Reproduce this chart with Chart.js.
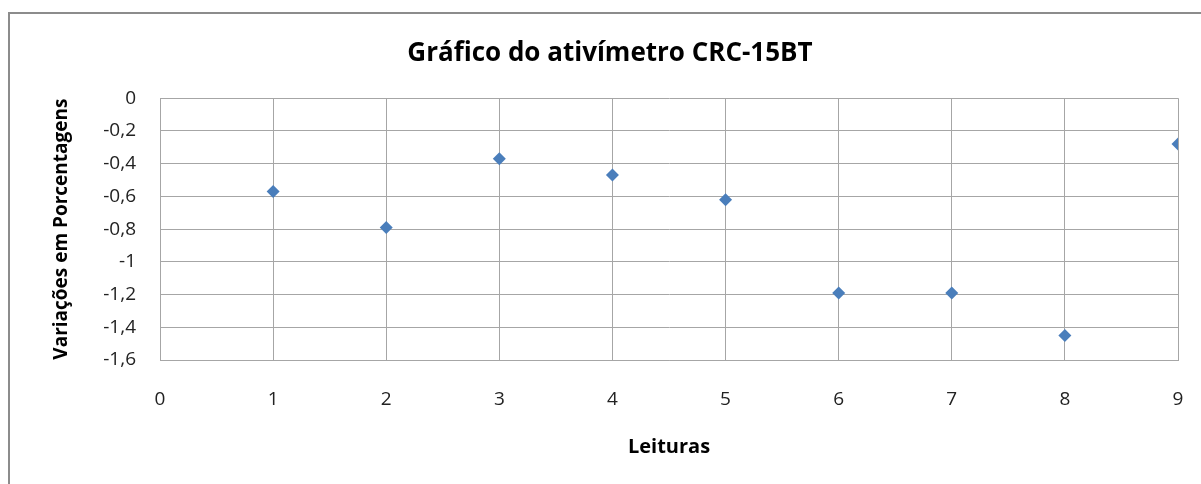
<!DOCTYPE html>
<html>
<head>
<meta charset="utf-8">
<script src="https://cdn.jsdelivr.net/npm/chart.js@4.4.1/dist/chart.umd.min.js"></script>
<style>
  html, body { margin: 0; padding: 0; background: #fff; overflow: hidden; }
  #wrap { position: relative; width: 1201px; height: 484px; }
  #moldura { position: absolute; left: 8px; top: 12px; width: 1300px; height: 600px;
             border: 2px solid #8c8c8c; box-sizing: border-box; }
  canvas { position: absolute; left: 0; top: 0; }
</style>
</head>
<body>
<div id="wrap">
  <div id="moldura"></div>
  <canvas id="grafico" width="1201" height="484"></canvas>
</div>
<script>
// leituras do ativímetro
const leituras = [1, 2, 3, 4, 5, 6, 7, 8, 9];
const variacoes = [-0.57, -0.79, -0.37, -0.47, -0.62, -1.19, -1.19, -1.45, -0.28];
const tituloGrafico = 'Gráfico do ativímetro CRC-15BT';
const tituloX = 'Leituras';
const tituloY = 'Variações em Porcentagens';

const fonte = "'Open Sans', sans-serif";
const corGrade = '#a6a6a6';

const pontos = leituras.map((x, i) => ({ x: x, y: variacoes[i] }));

new Chart(document.getElementById('grafico'), {
  type: 'scatter',
  data: {
    datasets: [{
      data: pontos,
      pointStyle: 'rectRot',
      pointRadius: 6.5,
      pointHoverRadius: 6.5,
      backgroundColor: '#4a7ebb',
      borderColor: '#4a7ebb',
      borderWidth: 0
    }]
  },
  options: {
    responsive: false,
    animation: false,
    layout: { padding: { left: 42, right: 23, top: 0, bottom: 0 } },
    plugins: {
      legend: { display: false },
      tooltip: { enabled: false },
      title: {
        display: true,
        text: tituloGrafico,
        color: '#000',
        font: { family: fonte, size: 26, weight: 'bold' },
        padding: { top: 38, bottom: 29 }
      }
    },
    scales: {
      x: {
        type: 'linear',
        min: 0,
        max: 9,
        afterFit: function(scale) {
          scale.height = 124;
          scale.paddingRight = 0;
        },
        ticks: {
          stepSize: 1,
          padding: 28,
          color: '#222',
          font: { family: fonte, size: 19 }
        },
        grid: { color: corGrade, drawTicks: false },
        border: { color: corGrade },
        title: {
          display: true,
          text: tituloX,
          color: '#000',
          font: { family: fonte, size: 20, weight: 'bold' },
          padding: { top: 0, bottom: 25 }
        }
      },
      y: {
        min: -1.6,
        max: 0,
        afterFit: function(scale) { scale.width = 118; },
        ticks: {
          stepSize: 0.2,
          padding: 24,
          color: '#222',
          font: { family: fonte, size: 19 },
          callback: function(v) {
            const r = Math.round(v * 10) / 10;
            return String(r).replace('.', ',');
          }
        },
        grid: { color: corGrade, drawTicks: false },
        border: { color: corGrade },
        title: {
          display: true,
          text: tituloY,
          color: '#000',
          font: { family: fonte, size: 19, weight: 'bold' },
          padding: { top: 8, bottom: 0 }
        }
      }
    }
  }
});
</script>
</body>
</html>
